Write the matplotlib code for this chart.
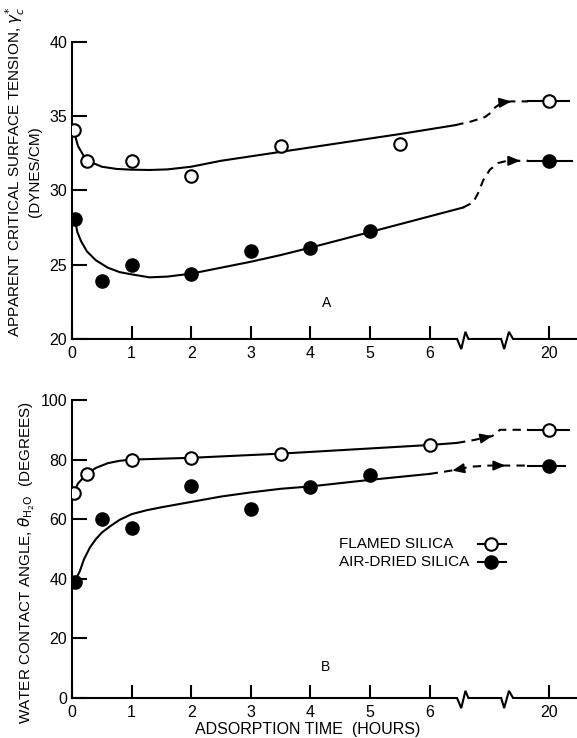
import numpy as np
import matplotlib
matplotlib.use("Agg")
import matplotlib.pyplot as plt
import matplotlib.transforms as mtransforms

plt.rcParams['font.family'] = ['Liberation Sans', 'DejaVu Sans']

# =========================
# Data
# =========================
# measured points, time in hours (20 h sits past the axis break)
hours_flamed_A = [0.03, 0.25, 1, 2, 3.5, 5.5, 20]
gamma_flamed = [34.1, 32.0, 32.0, 31.0, 33.0, 33.1, 36.0]
hours_air_A = [0.05, 0.5, 1, 2, 3, 4, 5, 20]
gamma_air = [28.1, 23.9, 25.0, 24.4, 25.9, 26.1, 27.3, 32.0]

hours_flamed_B = [0.03, 0.25, 1, 2, 3.5, 6, 20]
theta_flamed = [68.8, 75.2, 79.9, 80.5, 81.9, 84.9, 90.0]
hours_air_B = [0.05, 0.5, 1, 2, 3, 4, 5, 20]
theta_air = [38.9, 60.0, 57.0, 71.1, 63.4, 70.8, 74.8, 78.0]

# hand drawn guide curves (axis units: 0-6 = hours, 8 = 20 hours)
fitA_flamed_x = [0.03, 0.1, 0.2, 0.35, 0.5, 0.75, 1.0, 1.3, 1.6, 2.0, 2.5, 3.0, 3.5, 4.5, 5.5, 6.43]
fitA_flamed_y = [34.0, 33.0, 32.3, 31.85, 31.6, 31.45, 31.4, 31.38, 31.42, 31.6, 32.0, 32.3, 32.6, 33.2, 33.8, 34.4]
dashA_flamed_x = [6.43, 6.7, 6.93, 7.03, 7.1, 7.2, 7.37, 7.65]
dashA_flamed_y = [34.4, 34.65, 34.95, 35.25, 35.6, 35.88, 36.0, 36.0]

fitA_air_x = [0.05, 0.09, 0.15, 0.25, 0.4, 0.6, 0.8, 1.0, 1.3, 1.6, 2.0, 2.5, 3.0, 3.5, 4.0, 5.0, 6.56]
fitA_air_y = [28.0, 27.2, 26.6, 25.9, 25.3, 24.8, 24.5, 24.35, 24.15, 24.2, 24.4, 24.8, 25.2, 25.65, 26.15, 27.2, 28.85]
dashA_air_x = [6.56, 6.73, 6.81, 6.9, 7.01, 7.15, 7.3, 7.52, 7.65]
dashA_air_y = [28.85, 29.2, 29.8, 30.7, 31.4, 31.85, 32.0, 32.0, 32.0]

fitB_flamed_x = [0.03, 0.1, 0.25, 0.4, 0.6, 0.8, 1.0, 1.5, 2.0, 3.5, 6.0, 6.46]
fitB_flamed_y = [69.0, 72.0, 75.2, 77.2, 78.8, 79.6, 80.0, 80.3, 80.6, 82.0, 84.9, 85.6]
dashB_flamed_x = [6.46, 6.75, 7.05, 7.18, 7.65]
dashB_flamed_y = [85.6, 86.6, 87.9, 90.0, 90.0]

fitB_air_x = [0.05, 0.08, 0.13, 0.2, 0.3, 0.4, 0.5, 0.63, 0.8, 1.0, 1.25, 1.5, 2.0, 2.5, 3.0, 3.5, 4.0, 5.0, 6.0]
fitB_air_y = [39.0, 40.5, 42.5, 46.5, 50.5, 53.3, 55.5, 57.5, 59.8, 61.7, 63.0, 64.0, 65.8, 67.6, 69.0, 70.2, 71.0, 73.2, 75.2]
dashB_air_x = [6.0, 6.2, 6.45, 6.68, 7.0, 7.65]
dashB_air_y = [75.2, 75.8, 76.6, 77.6, 78.0, 78.0]

tick_pos = [0, 1, 2, 3, 4, 5, 6, 8]
tick_labels = ['0', '1', '2', '3', '4', '5', '6', '20']
legend_labels = ['FLAMED SILICA', 'AIR-DRIED SILICA']
XMAX = 8.47
LW = 1.5


def axis_pos(hours):
    # 20 hours is drawn at position 8 after the break
    h = np.asarray(hours, dtype=float)
    return np.where(h > 7, h - 12, h)


def style_axes(ax, ylim, yticks):
    ax.set_xlim(0, XMAX)
    ax.set_ylim(*ylim)
    for s in ['top', 'right', 'bottom']:
        ax.spines[s].set_visible(False)
    ax.spines['left'].set_linewidth(LW)
    ax.set_xticks(tick_pos)
    ax.set_xticklabels(tick_labels)
    ax.set_yticks(yticks)
    ax.tick_params(axis='x', direction='in', length=9.5, width=LW, pad=5, labelsize=11.5)
    ax.tick_params(axis='y', direction='in', length=11, width=LW, pad=3.5, labelsize=11.5)
    # broken x axis line
    trans = mtransforms.blended_transform_factory(ax.transData, ax.transAxes)
    zx = [0, 6.46, 6.53, 6.60, 6.65, 7.20, 7.25, 7.33, 7.40, XMAX]
    zy = [0, 0, -0.034, 0.024, 0, 0, -0.034, 0.024, 0, 0]
    ax.plot(zx, zy, transform=trans, color='black', lw=LW, clip_on=False,
            solid_joinstyle='miter')


def draw_series(ax, fx, fy, dx, dy, stub_y, stub_end, px, py, filled):
    ax.plot(fx, fy, color='black', lw=LW)
    ax.plot(dx, dy, color='black', lw=LW, dashes=(4, 3))
    ax.plot([7.65, stub_end], [stub_y, stub_y], color='black', lw=LW)
    ax.plot(axis_pos(px), py, 'o', ms=9, mew=1.5, mec='black',
            mfc='black' if filled else 'white', zorder=5)


def arrow(ax, tail, tip):
    ax.annotate('', xy=tip, xytext=tail,
                arrowprops=dict(arrowstyle='-|>,head_length=0.6,head_width=0.25',
                                color='black', lw=1.2, shrinkA=0, shrinkB=0,
                                mutation_scale=12))


fig = plt.figure(figsize=(5.77, 7.38), dpi=100)

# =========================
# Panel A
# =========================
axA = fig.add_axes([0.1248, 0.5407, 0.875, 0.4024])
style_axes(axA, (20, 40), [20, 25, 30, 35, 40])
draw_series(axA, fitA_flamed_x, fitA_flamed_y, dashA_flamed_x, dashA_flamed_y,
            36.0, 8.33, hours_flamed_A, gamma_flamed, False)
draw_series(axA, fitA_air_x, fitA_air_y, dashA_air_x, dashA_air_y,
            32.0, 8.39, hours_air_A, gamma_air, True)
arrow(axA, (7.22, 35.93), (7.37, 36.0))
arrow(axA, (7.38, 32.0), (7.52, 32.0))
axA.text(4.27, 22.4, 'A', ha='center', va='center', fontsize=10)

fig.text(0.026, 0.767, r'APPARENT CRITICAL SURFACE TENSION, $\gamma_c^{*}$',
         rotation=90, ha='center', va='center', fontsize=11)
fig.text(0.061, 0.767, '(DYNES/CM)', rotation=90, ha='center', va='center', fontsize=11)

# =========================
# Panel B
# =========================
axB = fig.add_axes([0.1248, 0.0542, 0.875, 0.4038])
style_axes(axB, (0, 100), [0, 20, 40, 60, 80, 100])
draw_series(axB, fitB_flamed_x, fitB_flamed_y, dashB_flamed_x, dashB_flamed_y,
            90.0, 8.33, hours_flamed_B, theta_flamed, False)
draw_series(axB, fitB_air_x, fitB_air_y, dashB_air_x, dashB_air_y,
            78.0, 8.27, hours_air_B, theta_air, True)
arrow(axB, (6.93, 87.4), (7.05, 87.9))
arrow(axB, (6.52, 76.85), (6.38, 76.3))
arrow(axB, (7.13, 78.0), (7.27, 78.0))
axB.text(4.25, 10.5, 'B', ha='center', va='center', fontsize=10)

# legend: labels left aligned, keys "-o-" to the right
for i, (lab, fill) in enumerate(zip(legend_labels, ['white', 'black'])):
    ly = 0.517 - i * 0.061
    axB.text(0.529, ly, lab, transform=axB.transAxes, ha='left', va='center', fontsize=11)
    axB.plot([0.804, 0.859], [ly, ly], transform=axB.transAxes, color='black', lw=LW)
    axB.plot([0.830], [ly], 'o', transform=axB.transAxes, ms=9, mew=1.5,
             mec='black', mfc=fill, zorder=5)

fig.text(0.047, 0.238, r'WATER CONTACT ANGLE, $\theta_{\mathrm{H_2O}}$  (DEGREES)',
         rotation=90, ha='center', va='center', fontsize=11)
fig.text(0.534, 0.011, 'ADSORPTION TIME  (HOURS)', ha='center', va='center', fontsize=11.5)

fig.savefig('out.png', dpi=100)
